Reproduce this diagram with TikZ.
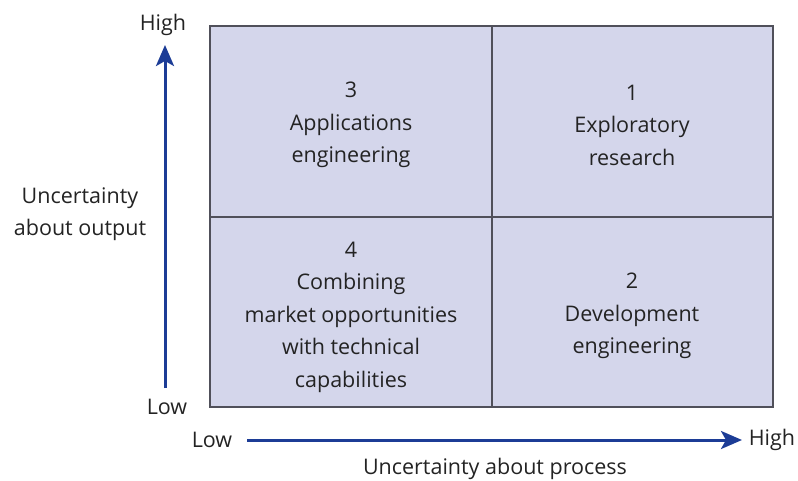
\documentclass[tikz,border=0pt]{standalone}
\usepackage{fontspec}
\setmainfont{Open Sans}
\usetikzlibrary{arrows.meta}
\definecolor{cellfill}{RGB}{212,214,235}
\definecolor{gridline}{RGB}{80,80,90}
\definecolor{arrowblue}{RGB}{28,60,150}
\definecolor{txt}{RGB}{35,35,35}
\tikzset{
  cell/.style={draw=gridline, line width=1.8pt, fill=cellfill},
  lbl/.style={text=txt, font=\fontsize{21.5}{32.5}\selectfont, align=center, inner sep=0pt},
  axis/.style={draw=arrowblue, line width=3pt, -{Stealth[length=21pt,width=18pt,inset=5pt]}}
}
\begin{document}
\begin{tikzpicture}[x=1pt,y=-1pt]
\useasboundingbox (0,0) rectangle (798,481);
% cells
\path[cell] (210,26) rectangle (492,217);
\path[cell] (492,26) rectangle (773,217);
\path[cell] (210,217) rectangle (492,407);
\path[cell] (492,217) rectangle (773,407);
% cell texts
\node[lbl] (c3) at (351,125) {3\\Applications\\engineering};
\node[lbl] (c1) at (632,125) {1\\Exploratory\\research};
\node[lbl] (c4) at (351,317) {4\\Combining\\market opportunities\\with technical\\capabilities};
\node[lbl] (c2) at (632,316) {2\\Development\\engineering};
% axis labels
\node[lbl] (hiY) at (163,25) {High};
\node[lbl] (loY) at (167,407) {Low};
\node[lbl] (loX) at (212,440) {Low};
\node[lbl] (hiX) at (772,440) {High};
\node[lbl] (outY) at (80,214) {Uncertainty\\about output};
\node[lbl] (outX) at (495,469) {Uncertainty about process};
% arrows
\coordinate (ys) at (165,388);
\coordinate (ye) at (165,45);
\coordinate (xs) at (247,440);
\coordinate (xe) at (742,440);
\draw[axis] (ys) -- (ye);
\draw[axis] (xs) -- (xe);
\end{tikzpicture}
\end{document}
